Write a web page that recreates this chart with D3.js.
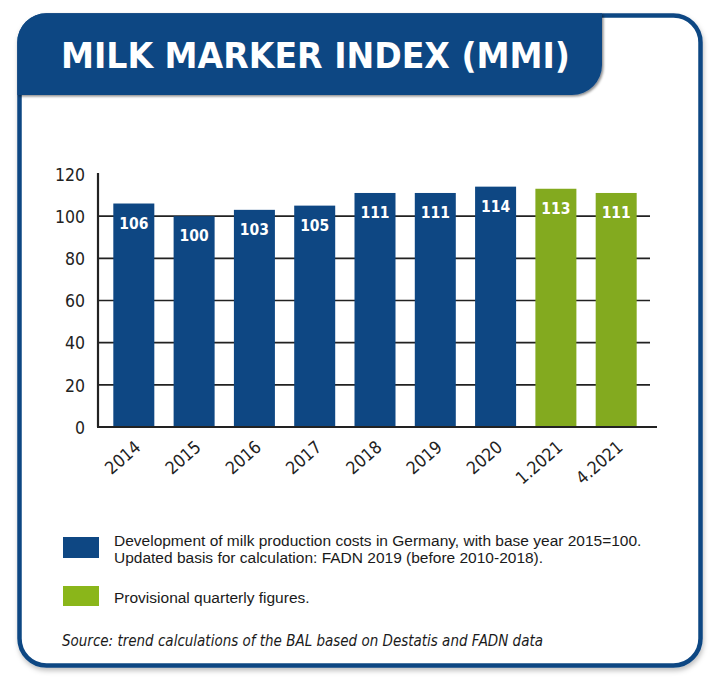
<!DOCTYPE html>
<html>
<head>
<meta charset="utf-8">
<script src="https://cdn.jsdelivr.net/npm/d3@7"></script>
<style>
  html, body { margin: 0; padding: 0; background: #ffffff; }
  svg { display: block; }
  .cond { font-family: "DejaVu Sans Condensed", "DejaVu Sans", sans-serif; font-stretch: condensed; }
</style>
</head>
<body>
<svg id="chart" width="720" height="688"></svg>
<script>
// ---- data ----
const categories = ["2014", "2015", "2016", "2017", "2018", "2019", "2020", "1.2021", "4.2021"];
const values = [106, 100, 103, 105, 111, 111, 114, 113, 111];
const provisional = [false, false, false, false, false, false, false, true, true];
const yTicks = [0, 20, 40, 60, 80, 100, 120];
const gridValues = [20, 40, 60, 80, 100];
const titleText = "MILK MARKER INDEX (MMI)";
const legendBlueLines = [
  "Development of milk production costs in Germany, with base year 2015=100.",
  "Updated basis for calculation: FADN 2019 (before 2010-2018)."
];
const legendGreenText = "Provisional quarterly figures.";
const sourceText = "Source: trend calculations of the BAL based on Destatis and FADN data";

// ---- style ----
const BLUE = "#0e4783";
const GREEN = "#83aa1f";
const LEGEND_GREEN = "#8ab61a";
const AXIS = "#222222";

const svg = d3.select("#chart");
const defs = svg.append("defs");
const sh = defs.append("filter").attr("id", "shadow").attr("x", "-5%").attr("y", "-5%").attr("width", "110%").attr("height", "115%");
sh.append("feDropShadow").attr("dx", 1).attr("dy", 3).attr("stdDeviation", 2.5).attr("flood-color", "#000").attr("flood-opacity", 0.25);
const sh2 = defs.append("filter").attr("id", "hshadow").attr("x", "-5%").attr("y", "-10%").attr("width", "110%").attr("height", "130%");
sh2.append("feDropShadow").attr("dx", 1.5).attr("dy", 1.5).attr("stdDeviation", 1).attr("flood-color", "#000").attr("flood-opacity", 0.45);

// frame
svg.append("rect")
  .attr("x", 19.5).attr("y", 15.5).attr("width", 681).attr("height", 650)
  .attr("rx", 27).attr("ry", 27)
  .attr("fill", "#fff").attr("stroke", BLUE).attr("stroke-width", 4.5)
  .attr("filter", "url(#shadow)");

// header
const hx0 = 17.3, hy0 = 13.3, hx1 = 602, hy1 = 95, r1 = 29, r2 = 30;
const hp = d3.path();
hp.moveTo(hx0, hy1);
hp.lineTo(hx0, hy0 + r1);
hp.arcTo(hx0, hy0, hx0 + r1, hy0, r1);
hp.lineTo(hx1, hy0);
hp.lineTo(hx1, hy1 - r2);
hp.arcTo(hx1, hy1, hx1 - r2, hy1, r2);
hp.lineTo(hx0, hy1);
hp.closePath();
svg.append("path").attr("d", hp.toString()).attr("fill", BLUE).attr("filter", "url(#hshadow)");

svg.append("text")
  .attr("class", "cond")
  .attr("x", 61).attr("y", 68)
  .attr("fill", "#fff")
  .attr("font-size", 36)
  .attr("font-weight", "bold")
  .attr("textLength", 509)
  .attr("lengthAdjust", "spacingAndGlyphs")
  .text(titleText);

// ---- scales ----
const x = d3.scaleBand()
  .domain(categories)
  .range([98, 652])
  .paddingInner(0.32)
  .paddingOuter(0.254);

const y = d3.scaleLinear().domain([0, 120]).range([427, 174]);

// gridlines
svg.append("g")
  .selectAll("line")
  .data(gridValues)
  .join("line")
  .attr("x1", 98).attr("x2", 650)
  .attr("y1", d => y(d)).attr("y2", d => y(d))
  .attr("stroke", AXIS).attr("stroke-width", 1.6);

// bars
svg.append("g")
  .selectAll("rect")
  .data(categories)
  .join("rect")
  .attr("x", d => x(d))
  .attr("width", x.bandwidth())
  .attr("y", (d, i) => y(values[i]))
  .attr("height", (d, i) => y(0) - y(values[i]))
  .attr("fill", (d, i) => provisional[i] ? GREEN : BLUE);

// value labels
svg.append("g")
  .selectAll("text")
  .data(categories)
  .join("text")
  .attr("class", "cond")
  .attr("x", d => x(d) + x.bandwidth() / 2)
  .attr("y", (d, i) => y(values[i]) + 25)
  .attr("text-anchor", "middle")
  .attr("fill", "#fff")
  .attr("font-size", 15.5)
  .attr("font-weight", "bold")
  .text((d, i) => values[i]);

// y axis
const yAxis = d3.axisLeft(y).tickValues(yTicks).tickSize(0).tickPadding(13);
const gy = svg.append("g").attr("transform", "translate(98,0)").call(yAxis);
gy.select(".domain").attr("stroke", AXIS).attr("stroke-width", 2.2).attr("d", `M0,${y(120) - 1}V${y(0)}`);
gy.selectAll("text")
  .attr("class", "cond")
  .attr("font-size", 17.5)
  .attr("fill", AXIS)
  .attr("dy", "0.36em");

// x axis
const xAxis = d3.axisBottom(x).tickSize(0).tickPadding(0);
const gx = svg.append("g").attr("transform", `translate(0,${y(0)})`).call(xAxis);
gx.select(".domain").attr("stroke", AXIS).attr("stroke-width", 2.2).attr("d", `M97,0H657`);
gx.selectAll(".tick text")
  .attr("class", "cond")
  .attr("font-size", 17.5)
  .attr("fill", AXIS)
  .attr("text-anchor", "end")
  .attr("y", 0).attr("dy", 0)
  .attr("transform", "translate(8,22) rotate(-41)");

// legend
const legend = svg.append("g");
legend.append("rect").attr("x", 63).attr("y", 537).attr("width", 36).attr("height", 21).attr("fill", BLUE);
legend.append("rect").attr("x", 63).attr("y", 586).attr("width", 36).attr("height", 20).attr("fill", LEGEND_GREEN);
legend.append("text")
  .attr("x", 114).attr("y", 546)
  .attr("font-family", "'Liberation Sans', Arial, sans-serif")
  .attr("font-size", 15.5)
  .attr("fill", "#1a1a1a")
  .selectAll("tspan")
  .data(legendBlueLines)
  .join("tspan")
  .attr("x", 114)
  .attr("dy", (d, i) => i === 0 ? 0 : 16.5)
  .text(d => d);
legend.append("text")
  .attr("x", 114).attr("y", 603)
  .attr("font-family", "'Liberation Sans', Arial, sans-serif")
  .attr("font-size", 15.5)
  .attr("fill", "#1a1a1a")
  .text(legendGreenText);

svg.append("text")
  .attr("class", "cond")
  .attr("x", 62).attr("y", 646)
  .attr("font-size", 16.5)
  .attr("font-style", "italic")
  .attr("fill", "#1a1a1a")
  .attr("textLength", 481)
  .attr("lengthAdjust", "spacingAndGlyphs")
  .text(sourceText);
</script>
</body>
</html>
